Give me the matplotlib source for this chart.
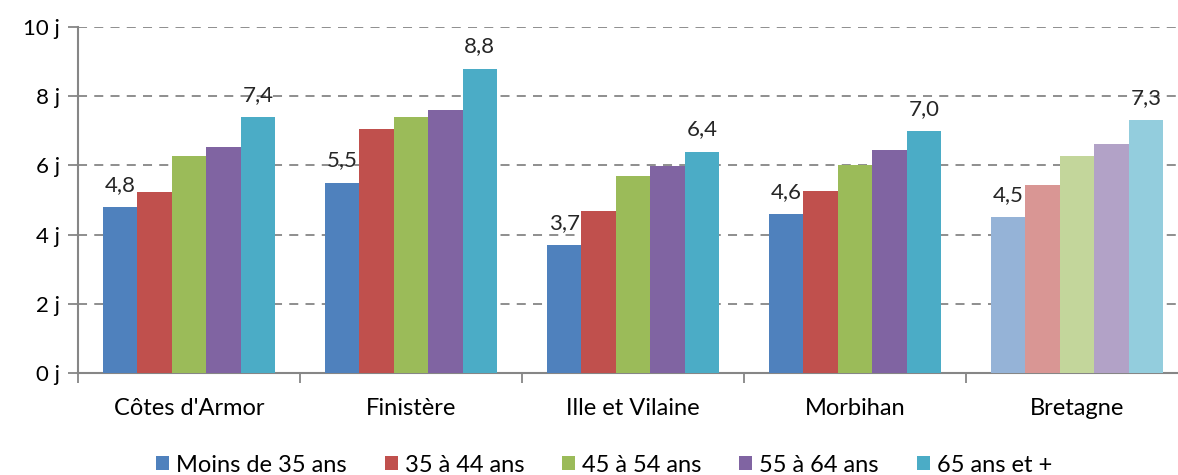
import numpy as np
import matplotlib
matplotlib.use("Agg")
from matplotlib import pyplot as plt
from matplotlib.patches import Patch

plt.rcParams['font.family'] = ['Lato', 'DejaVu Sans']

departements = ["Côtes d'Armor", "Finistère", "Ille et Vilaine", "Morbihan", "Bretagne"]
ages = ["Moins de 35 ans", "35 à 44 ans", "45 à 54 ans", "55 à 64 ans", "65 ans et +"]

moins_35 = [4.8, 5.5, 3.7, 4.6, 4.5]
de_35_44 = [5.22, 7.04, 4.68, 5.25, 5.43]
de_45_54 = [6.27, 7.40, 5.69, 6.00, 6.26]
de_55_64 = [6.52, 7.59, 5.99, 6.44, 6.62]
plus_65 = [7.4, 8.8, 6.4, 7.0, 7.3]

yticks = [0, 2, 4, 6, 8, 10]

series = [moins_35, de_35_44, de_45_54, de_55_64, plus_65]
colors = ["#4F81BD", "#C0504D", "#9BBB59", "#8064A2", "#4BACC6"]
light = ["#95B3D7", "#D99694", "#C3D69B", "#B2A2C7", "#93CDDD"]
grey = "#868686"

fig = plt.figure(figsize=(11.78, 4.75), dpi=100)
ax = fig.add_axes([78 / 1178, 102 / 475, 1110 / 1178, 346 / 475])

x = np.arange(len(departements))
w = 0.155
for i, vals in enumerate(series):
    cols = [colors[i]] * (len(departements) - 1) + [light[i]]
    pos = x + (i - 2) * w
    ax.bar(pos, vals, width=w, color=cols, edgecolor="none", zorder=3)

# valeurs affichées au-dessus de la première et de la dernière tranche
for j in range(len(departements)):
    for i in (0, 4):
        v = series[i][j]
        ax.text(x[j] + (i - 2) * w, v + 0.35, f"{v:.1f}".replace(".", ","),
                ha="center", va="bottom", fontsize=16, color="#262626", zorder=4)

ax.set_ylim(0, 10)
ax.set_xlim(-0.5, len(departements) - 0.5)
ax.set_yticks(yticks)
ax.set_yticklabels([f"{t} j" for t in yticks], fontsize=16)
ax.yaxis.grid(True, linestyle=(0, (5, 4)), color=grey, linewidth=1.3, zorder=0)
ax.set_axisbelow(True)

ax.set_xticks(np.arange(len(departements) + 1) - 0.5)
ax.set_xticklabels([])
ax.set_xticks(x, minor=True)
ax.set_xticklabels(departements, minor=True, fontsize=17)
ax.tick_params(axis="x", which="minor", length=0, pad=18)
ax.tick_params(axis="x", which="major", length=7, color=grey, width=1.3)
ax.tick_params(axis="y", length=7, color=grey, width=1.3, pad=6)

for s in ("top", "right"):
    ax.spines[s].set_visible(False)
for s in ("left", "bottom"):
    ax.spines[s].set_color(grey)
    ax.spines[s].set_linewidth(1.5)

handles = [Patch(facecolor=c, edgecolor="none") for c in colors]
fig.legend(handles, ages, loc="center", bbox_to_anchor=(604 / 1178, 10 / 475),
           ncol=5, frameon=False, fontsize=17, handlelength=0.55, handleheight=0.55,
           handletextpad=0.3, columnspacing=1.6, borderpad=0)

fig.savefig("out.png", dpi=100)
